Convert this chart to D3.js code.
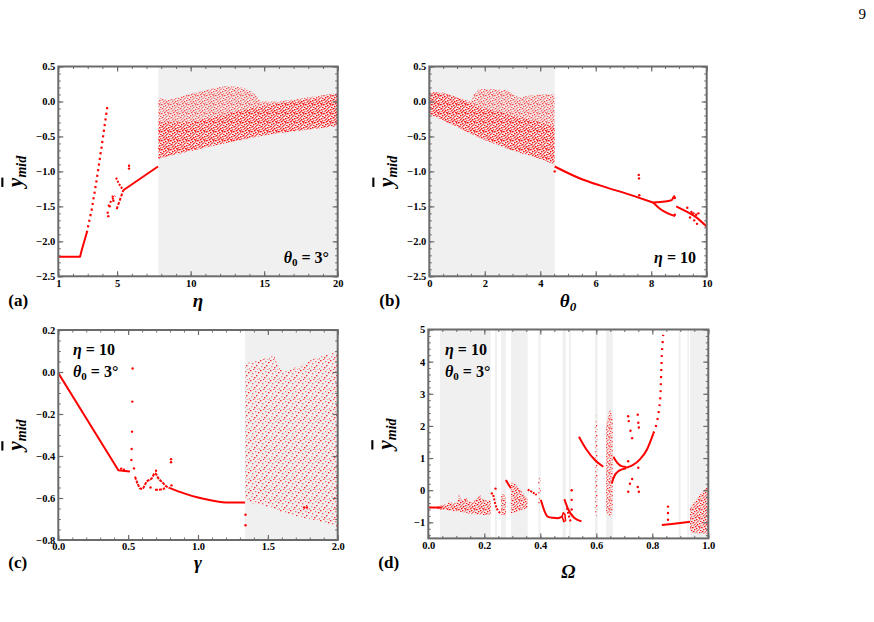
<!DOCTYPE html>
<html>
<head>
<meta charset="utf-8">
<script src="https://cdn.jsdelivr.net/npm/d3@7"></script>
<style>
  body { margin: 0; background: #fff; }
  svg text { font-family: "Liberation Serif", "Times New Roman", serif; }
  .tick text { font-weight: bold; font-size: 10.5px; fill: #000; }
</style>
</head>
<body>
<div id="fig"></div>
<script>
// ---------- panel (a): ymid vs eta, theta0 = 3 deg ----------
const aChaosX   = [7.8, 8.5, 9.5, 10.5, 11.5, 12.5, 13.5, 14.2, 14.8, 16, 18, 20];
const aChaosTop = [0.05, 0.02, 0.08, 0.14, 0.19, 0.22, 0.2, 0.14, 0.0, 0.0, 0.06, 0.12];
const aChaosBot = [-0.82, -0.78, -0.73, -0.68, -0.63, -0.59, -0.55, -0.52, -0.49, -0.45, -0.4, -0.35];
const aCoreX    = [7.8, 10, 12, 14, 16, 18, 20];
const aCoreTop  = [-0.3, -0.3, -0.2, -0.1, -0.03, 0.03, 0.1];
const aCoreBot  = [-0.82, -0.71, -0.61, -0.52, -0.45, -0.4, -0.35];
const aFlat  = [[1, -2.22], [2.48, -2.22], [2.6, -2.12], [2.93, -1.88]];
const aRise  = [[2.93, -1.88], [3.27, -1.55], [3.61, -1.12], [3.95, -0.64], [4.33, -0.08]];
const aMain  = [[5.42, -1.27], [7.78, -0.93]];
const aUp    = [[4.93, -1.09], [5.1, -1.17], [5.42, -1.27]];
const aDown  = [[4.97, -1.54], [5.2, -1.4], [5.42, -1.27]];
const aPiece = [[4.4, -1.5], [4.6, -1.42], [4.86, -1.35]];
const aDots  = [[4.36, -1.59], [4.4, -1.64], [5.81, -0.92], [5.81, -0.96], [4.5, -1.5], [4.7, -1.36], [4.75, -1.42]];

// ---------- panel (b): ymid vs theta0, eta = 10 ----------
const bChaosX   = [0, 0.5, 1.0, 1.5, 1.6, 1.8, 2.2, 2.8, 3.2, 3.6, 4.0, 4.52];
const bChaosTop = [0.14, 0.13, 0.06, 0.0, 0.1, 0.18, 0.18, 0.16, 0.06, 0.08, 0.1, 0.1];
const bChaosBot = [-0.18, -0.27, -0.36, -0.46, -0.48, -0.52, -0.58, -0.67, -0.72, -0.77, -0.82, -0.9];
const bCoreX    = [0, 1, 1.6, 2, 3, 4, 4.52];
const bCoreTop  = [0.14, 0.06, -0.05, -0.1, -0.2, -0.3, -0.35];
const bCoreBot  = [-0.18, -0.36, -0.48, -0.55, -0.7, -0.82, -0.9];
const bMain  = [[4.52, -0.93], [5.55, -1.12], [6.15, -1.2], [7.36, -1.35], [8.07, -1.445]];
const bUpper = [[8.07, -1.445], [8.5, -1.43], [8.74, -1.41], [8.8, -1.37], [8.86, -1.35]];
const bLower = [[8.07, -1.445], [8.3, -1.53], [8.6, -1.6], [8.86, -1.64]];
const bTail  = [[8.9, -1.5], [9.3, -1.58], [9.6, -1.65], [10, -1.79]];
const bDots  = [[7.55, -1.05], [7.56, -1.1], [7.57, -1.34], [9.3, -1.52], [9.45, -1.58], [9.55, -1.7],
                [9.62, -1.62], [9.65, -1.75], [9.7, -1.6], [9.52, -1.6], [9.4, -1.66], [8.85, -1.38],
                [8.85, -1.62], [4.52, -1.0]];

// ---------- panel (c): ymid vs gamma ----------
const cChaosX   = [1.337, 1.4, 1.54, 1.61, 1.73, 1.85, 2.0];
const cChaosTop = [0.04, 0.05, 0.08, 0.0, 0.03, 0.07, 0.1];
const cChaosBot = [-0.6, -0.63, -0.65, -0.67, -0.69, -0.71, -0.74];
const cMain = [[0, -0.005], [0.43, -0.468], [0.46, -0.47], [0.513, -0.474]];
const cFall = [[0.549, -0.498], [0.57, -0.535], [0.585, -0.554], [0.6, -0.557], [0.633, -0.522],
               [0.669, -0.506], [0.692, -0.482], [0.72, -0.51], [0.74, -0.522], [0.776, -0.546], [0.8, -0.553]];
const cLow  = [[0.692, -0.561], [0.73, -0.56], [0.764, -0.554]];
const cTail = [[0.8, -0.553], [0.9, -0.578], [1.0, -0.598], [1.1, -0.612], [1.217, -0.622], [1.337, -0.622]];
const cDots = [[0.532, 0.017], [0.53, -0.141], [0.528, -0.284], [0.525, -0.367], [0.523, -0.419],
               [0.542, -0.459], [0.807, -0.415], [0.807, -0.43], [0.45, -0.46], [0.47, -0.465],
               [0.66, -0.55], [0.7, -0.47], [0.81, -0.54], [1.76, -0.645], [1.78, -0.645],
               [1.34, -0.68], [1.34, -0.73]];

// ---------- panel (d): ymid vs Omega ----------
const dGrey = [[0.042, 0.223], [0.238, 0.245], [0.26, 0.277], [0.295, 0.355], [0.393, 0.401],
               [0.48, 0.491], [0.502, 0.51], [0.595, 0.605], [0.635, 0.659], [0.894, 0.901],
               [0.925, 0.931], [0.935, 1.0]];
const dBand1X   = [0.03, 0.042, 0.07, 0.072, 0.09, 0.105, 0.108, 0.12, 0.137, 0.14, 0.16, 0.185, 0.19, 0.21, 0.223];
const dBand1Top = [-0.52, -0.48, -0.42, -0.34, -0.42, -0.36, -0.12, -0.33, -0.22, -0.34, -0.38, -0.12, -0.28, -0.33, -0.3];
const dBand1Bot = [-0.57, -0.6, -0.62, -0.64, -0.65, -0.66, -0.67, -0.68, -0.7, -0.72, -0.74, -0.76, -0.77, -0.77, -0.76];
const dBand2X   = [0.26, 0.268, 0.277];
const dBand2Top = [-0.2, -0.1, -0.25];
const dBand2Bot = [-0.75, -0.8, -0.78];
const dBand3X   = [0.295, 0.31, 0.33, 0.355];
const dBand3Top = [0.25, 0.2, 0.0, -0.3];
const dBand3Bot = [-0.72, -0.7, -0.62, -0.55];
const dBand4X   = [0.393, 0.397, 0.401];
const dBand4Top = [0.3, 0.55, 0.2];
const dBand4Bot = [-0.4, -0.5, -0.45];
const dBand5X   = [0.595, 0.6, 0.605];
const dBand5Top = [2.0, 2.35, 1.9];
const dBand5Bot = [-0.7, -0.82, -0.6];
const dBand6X   = [0.635, 0.645, 0.652, 0.659];
const dBand6Top = [2.0, 2.45, 2.5, 2.2];
const dBand6Bot = [-0.7, -0.8, -0.82, -0.6];
const dBand7X   = [0.935, 0.95, 0.97, 0.99, 1.0];
const dBand7Top = [-0.55, -0.4, -0.15, 0.05, 0.2];
const dBand7Bot = [-1.3, -1.33, -1.35, -1.35, -1.35];
const dFlat  = [[0, -0.54], [0.05, -0.54]];
const dU     = [[0.232, -0.15], [0.24, -0.45], [0.25, -0.65], [0.258, -0.72]];
const dC3    = [[0.277, 0.32], [0.285, 0.2], [0.295, 0.06]];
const dC4    = [[0.355, 0.02], [0.37, -0.05], [0.387, -0.15]];
const dC5    = [[0.402, -0.3], [0.415, -0.65], [0.426, -0.82], [0.445, -0.86], [0.462, -0.87], [0.478, -0.82]];
const dLoop  = [[0.478, -0.82], [0.482, -0.7], [0.488, -0.75], [0.49, -0.95], [0.484, -0.98], [0.478, -0.82]];
const dC6    = [[0.486, -0.28], [0.5, -0.6], [0.52, -0.85], [0.535, -0.93], [0.547, -0.97]];
const dC6b   = [[0.495, -0.55], [0.505, -0.9], [0.51, -1.0]];
const dC7    = [[0.538, 1.665], [0.566, 1.25], [0.595, 0.94], [0.625, 0.73]];
const dCuspU = [[0.661, 1.04], [0.675, 0.85], [0.69, 0.75], [0.707, 0.72]];
const dCuspL = [[0.655, 0.21], [0.665, 0.45], [0.68, 0.6], [0.707, 0.68]];
const dRise  = [[0.707, 0.7], [0.73, 0.78], [0.755, 0.95], [0.78, 1.25], [0.804, 1.77]];
const dRiseD = [[0.804, 1.77], [0.828, 2.81], [0.834, 4.21], [0.839, 4.83]];
const dLow   = [[0.834, -1.08], [0.87, -1.05], [0.9, -1.02], [0.935, -0.98]];
const dDots  = [[0.714, 2.3], [0.716, 2.15], [0.722, 1.85], [0.728, 1.62], [0.748, 2.35], [0.75, 2.1],
                [0.752, 1.95], [0.714, -0.05], [0.72, 0.2], [0.728, 0.35], [0.748, 0.1], [0.752, -0.05],
                [0.714, 0.9], [0.75, 0.7], [0.856, -0.51], [0.856, -0.71], [0.856, -0.92],
                [0.512, 0.0], [0.512, -0.3], [0.512, -0.6], [0.24, 0.05], [0.227, -0.1]];

// ---------- drawing ----------
const svg = d3.select("#fig").append("svg")
    .attr("width", 874)
    .attr("height", 622);

// speckle tiles used to fill the chaotic bands (dense and sparse)
const defs = svg.append("defs");
function speckle(id, size, spots) {
  const p = defs.append("pattern")
      .attr("id", id)
      .attr("patternUnits", "userSpaceOnUse")
      .attr("width", size).attr("height", size);
  p.selectAll("rect")
    .data(spots)
    .join("rect")
      .attr("x", d => d[0]).attr("y", d => d[1])
      .attr("width", 1.4).attr("height", 1.3)
      .attr("fill", "#ff0000")
      .attr("fill-opacity", d => d[2]);
}
speckle("speckHi", 9, [
  [0, 0, 1], [3, 0, 0.6], [6, 1, 1], [1, 2, 0.7], [4, 2, 1], [7, 3, 0.5], [2, 4, 1], [5, 4, 0.8],
  [0, 5, 0.6], [8, 5, 1], [3, 6, 1], [6, 6, 0.5], [1, 7, 1], [4, 8, 0.7], [7, 8, 1], [2, 1, 0.4],
  [8, 0.5, 0.5], [5, 7, 0.4], [0, 3, 0.4], [6, 4.5, 1], [3, 3, 0.5]
]);
speckle("speckLo", 10, [
  [0, 0, 1], [5, 1, 0.6], [8, 2, 1], [2, 3, 0.7], [6, 5, 1], [1, 6, 0.5], [4, 7, 1], [9, 8, 0.6],
  [3, 9, 0.8], [7, 9, 0.4]
]);

svg.append("text")
    .attr("x", 866).attr("y", 19)
    .attr("text-anchor", "end")
    .style("font-size", "15px")
    .text("9");

function panel(o) {
  const x = d3.scaleLinear().domain(o.xd).range([o.left, o.right]);
  const y = d3.scaleLinear().domain(o.yd).range([o.bottom, o.top]);
  const g = svg.append("g");

  g.append("defs").append("clipPath").attr("id", "clip" + o.id)
    .append("rect")
      .attr("x", o.left).attr("y", o.top)
      .attr("width", o.right - o.left).attr("height", o.bottom - o.top);

  const plot = g.append("g").attr("clip-path", `url(#clip${o.id})`);

  // grey shading of chaotic windows
  plot.selectAll("rect.grey")
    .data(o.grey)
    .join("rect")
      .attr("class", "grey")
      .attr("x", d => x(d[0]))
      .attr("y", o.top)
      .attr("width", d => x(d[1]) - x(d[0]))
      .attr("height", o.bottom - o.top)
      .attr("fill", "#f0f0f0");

  // chaotic bands
  const area = d3.area()
      .x(d => x(d[0]))
      .y0(d => y(d[2]))
      .y1(d => y(d[1]));
  for (const b of o.bands) {
    const pts = b.x.map((v, i) => [v, b.top[i], b.bot[i]]);
    plot.append("path")
        .attr("d", area(pts))
        .attr("fill", `url(#${b.sparse ? "speckLo" : "speckHi"})`)
        .attr("fill-opacity", b.op);
  }

  // periodic branches
  for (const l of o.lines) {
    const line = d3.line().x(d => x(d[0])).y(d => y(d[1]))
        .curve(l.smooth ? d3.curveMonotoneX : d3.curveLinear);
    plot.append("path")
        .attr("d", line(l.pts))
        .attr("fill", "none")
        .attr("stroke", "#f00")
        .attr("stroke-width", l.w || 2)
        .attr("stroke-linejoin", "round")
        .attr("stroke-dasharray", l.dash || null);
  }

  plot.selectAll("circle")
    .data(o.dots)
    .join("circle")
      .attr("cx", d => x(d[0]))
      .attr("cy", d => y(d[1]))
      .attr("r", 1.2)
      .attr("fill", "#f00");

  // frame and inward ticks on all four sides
  const tickCol = "#6b6b6b";
  const axes = [
    [() => d3.axisBottom(x), `translate(0,${o.bottom})`, o.xt, o.xm, o.xf],
    [() => d3.axisTop(x), `translate(0,${o.top})`, o.xt, o.xm, null],
    [() => d3.axisLeft(y), `translate(${o.left},0)`, o.yt, o.ym, o.yf],
    [() => d3.axisRight(y), `translate(${o.right},0)`, o.yt, o.ym, null]
  ];
  for (const [mk, tr, major, minor, fmt] of axes) {
    g.append("g")
        .attr("transform", tr)
        .call(mk().tickValues(minor).tickSize(-2.5).tickFormat(""))
        .call(s => s.select(".domain").remove())
        .call(s => s.selectAll(".tick line").attr("stroke", tickCol));
    g.append("g")
        .attr("transform", tr)
        .call(mk().tickValues(major).tickSize(-5).tickPadding(3).tickFormat(fmt || (() => "")))
        .call(s => s.select(".domain").remove())
        .call(s => s.selectAll(".tick line").attr("stroke", tickCol).attr("stroke-width", 1.2));
  }
  g.append("rect")
      .attr("x", o.left).attr("y", o.top)
      .attr("width", o.right - o.left).attr("height", o.bottom - o.top)
      .attr("fill", "none")
      .attr("stroke", tickCol)
      .attr("stroke-width", 2);

  // y label: overlined y with subscript mid
  const yl = g.append("text")
      .attr("transform", `translate(${o.left - 36},${(o.top + o.bottom) / 2}) rotate(-90)`)
      .attr("text-anchor", "middle")
      .style("font-weight", "bold")
      .style("font-style", "italic")
      .style("font-size", "21px");
  yl.append("tspan").style("text-decoration", "overline").text("y");
  yl.append("tspan").attr("dy", 4).style("font-size", "14px").text("mid");

  // x label
  const xl = g.append("text")
      .attr("x", (o.left + o.right) / 2)
      .attr("y", o.xlabY)
      .attr("text-anchor", "middle")
      .style("font-weight", "bold")
      .style("font-style", "italic")
      .style("font-size", "19px");
  xl.append("tspan").text(o.xlab);
  if (o.xsub) xl.append("tspan").attr("dy", 4).style("font-size", "13px").text(o.xsub);

  // panel letter
  g.append("text")
      .attr("x", o.left - 50).attr("y", o.letterY)
      .style("font-weight", "bold")
      .style("font-size", "17px")
      .text(`(${o.id})`);

  // parameter notes
  for (const n of o.notes) {
    const t = g.append("text")
        .attr("x", n.x).attr("y", n.y)
        .attr("text-anchor", n.anchor)
        .style("font-weight", "bold")
        .style("font-size", "16px");
    t.append("tspan").style("font-style", "italic").text(n.sym);
    if (n.sub) t.append("tspan").attr("dy", 3).style("font-size", "11px").text(n.sub);
    t.append("tspan").attr("dy", n.sub ? -3 : 0).text(n.rest);
  }
}

const f1 = d3.format(".1f");
const theta3 = {sym: "θ", sub: "0", rest: " = 3°"};
const eta10 = {sym: "η", rest: " = 10"};

panel({
  id: "a", left: 58.3, right: 337.7, top: 66.5, bottom: 276.3,
  xd: [1, 20], yd: [-2.5, 0.5],
  xt: [1, 5, 10, 15, 20], xm: d3.range(1, 20.01, 1), xf: d3.format("d"),
  yt: d3.range(-2.5, 0.51, 0.5), ym: d3.range(-2.5, 0.51, 0.1), yf: f1,
  grey: [[7.8, 20]],
  bands: [
    {x: aChaosX, top: aChaosTop, bot: aChaosBot, op: 0.7},
    {x: aCoreX, top: aCoreTop, bot: aCoreBot, op: 0.8}
  ],
  lines: [{pts: aFlat}, {pts: aRise, dash: "2.2,3.5", w: 2.2}, {pts: aMain}, {pts: aUp, dash: "2,1.5"},
          {pts: aDown, dash: "3,1.5"}, {pts: aPiece, dash: "2,2"}],
  dots: aDots,
  xlab: "η", xlabY: 307, letterY: 306,
  notes: [Object.assign({x: 329, y: 263, anchor: "end"}, theta3)]
});

panel({
  id: "b", left: 429.3, right: 706.7, top: 66.5, bottom: 276.3,
  xd: [0, 10], yd: [-2.5, 0.5],
  xt: d3.range(0, 10.01, 2), xm: d3.range(0, 10.01, 0.5), xf: d3.format("d"),
  yt: d3.range(-2.5, 0.51, 0.5), ym: d3.range(-2.5, 0.51, 0.1), yf: f1,
  grey: [[0, 4.52]],
  bands: [
    {x: bChaosX, top: bChaosTop, bot: bChaosBot, op: 0.7},
    {x: bCoreX, top: bCoreTop, bot: bCoreBot, op: 0.8}
  ],
  lines: [{pts: bMain, smooth: true}, {pts: bUpper, smooth: true}, {pts: bLower, smooth: true},
          {pts: bTail, smooth: true}],
  dots: bDots,
  xlab: "θ", xsub: "0", xlabY: 307, letterY: 306,
  notes: [Object.assign({x: 696, y: 263, anchor: "end"}, eta10)]
});

panel({
  id: "c", left: 58.3, right: 337.7, top: 330, bottom: 540,
  xd: [0, 2], yd: [-0.8, 0.2],
  xt: d3.range(0, 2.01, 0.5), xm: d3.range(0, 2.01, 0.1), xf: f1,
  yt: d3.range(-0.8, 0.21, 0.2), ym: d3.range(-0.8, 0.21, 0.05), yf: f1,
  grey: [[1.337, 2]],
  bands: [{x: cChaosX, top: cChaosTop, bot: cChaosBot, op: 0.85, sparse: true}],
  lines: [{pts: cMain}, {pts: cFall, dash: "3,1", smooth: true}, {pts: cLow, dash: "3,1"},
          {pts: cTail, smooth: true}],
  dots: cDots,
  xlab: "γ", xlabY: 569, letterY: 568,
  notes: [Object.assign({x: 73, y: 355, anchor: "start"}, eta10),
          Object.assign({x: 73, y: 377, anchor: "start"}, theta3)]
});

panel({
  id: "d", left: 428.3, right: 708.3, top: 329.5, bottom: 538.4,
  xd: [0, 1], yd: [-1.5, 5],
  xt: d3.range(0, 1.01, 0.2), xm: d3.range(0, 1.01, 0.05), xf: f1,
  yt: d3.range(-1, 5.01, 1), ym: d3.range(-1.4, 5.01, 0.2), yf: d3.format("d"),
  grey: dGrey,
  bands: [
    {x: dBand1X, top: dBand1Top, bot: dBand1Bot, op: 0.95},
    {x: dBand2X, top: dBand2Top, bot: dBand2Bot, op: 0.85},
    {x: dBand3X, top: dBand3Top, bot: dBand3Bot, op: 0.9},
    {x: dBand4X, top: dBand4Top, bot: dBand4Bot, op: 0.9, sparse: true},
    {x: dBand5X, top: dBand5Top, bot: dBand5Bot, op: 0.9, sparse: true},
    {x: dBand6X, top: dBand6Top, bot: dBand6Bot, op: 0.75},
    {x: dBand7X, top: dBand7Top, bot: dBand7Bot, op: 0.9}
  ],
  lines: [{pts: dFlat}, {pts: dU, dash: "2,1.5", smooth: true}, {pts: dC3}, {pts: dC4, dash: "2,1"},
          {pts: dC5, smooth: true}, {pts: dLoop, w: 1.5}, {pts: dC6, smooth: true}, {pts: dC6b, dash: "2,2"},
          {pts: dC7, smooth: true}, {pts: dCuspU, smooth: true}, {pts: dCuspL, smooth: true},
          {pts: dRise, smooth: true}, {pts: dRiseD, dash: "2,5", w: 2.2, smooth: true}, {pts: dLow}],
  dots: dDots,
  xlab: "Ω", xlabY: 578, letterY: 568,
  notes: [Object.assign({x: 445, y: 355, anchor: "start"}, eta10),
          Object.assign({x: 445, y: 377, anchor: "start"}, theta3)]
});
</script>
</body>
</html>
